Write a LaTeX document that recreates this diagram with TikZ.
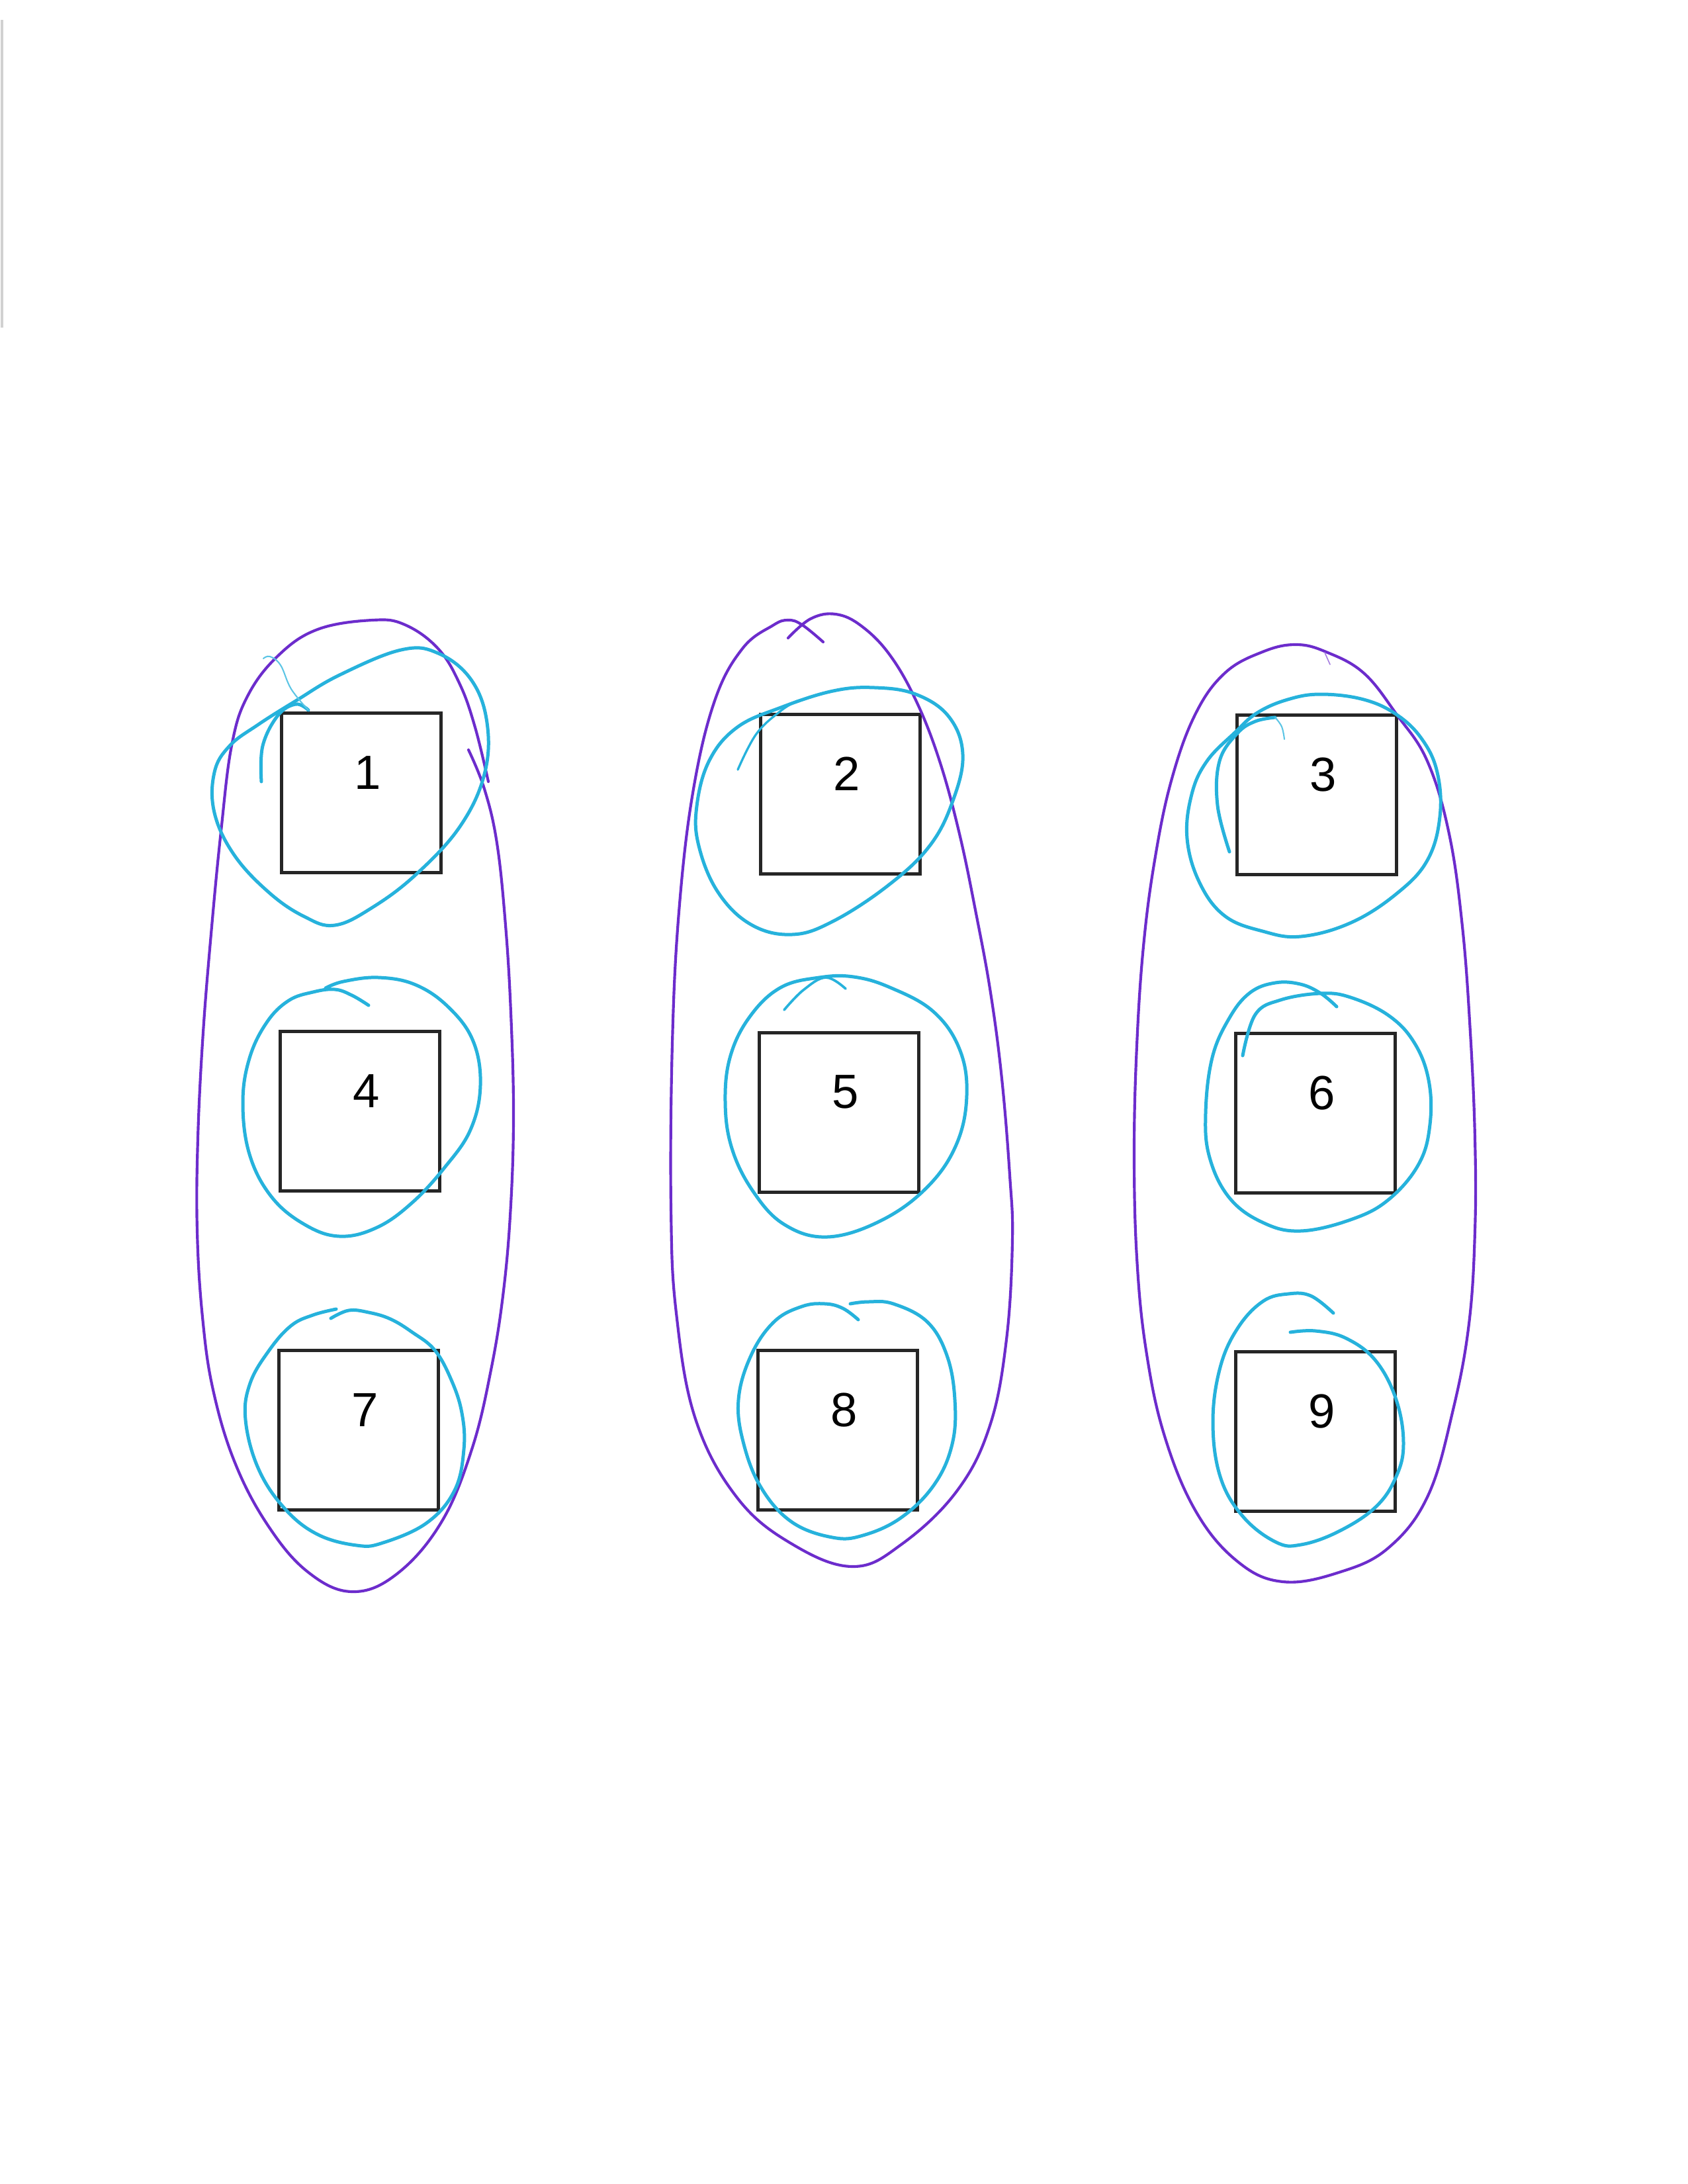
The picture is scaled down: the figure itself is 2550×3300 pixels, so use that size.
\documentclass[tikz,border=0pt]{standalone}
\usepackage{fontspec}
\setmainfont{Liberation Sans}
\definecolor{purp}{RGB}{108,44,204}
\definecolor{cyanpen}{RGB}{38,178,220}
\begin{document}
\begin{tikzpicture}[x=0.24pt,y=-0.24pt,
  cell/.style={draw=black!85,line width=1.1pt,minimum width=57.8pt,minimum height=57.8pt,inner sep=0pt,outer sep=0pt},
  num/.style={font=\fontsize{17.4}{20}\selectfont,inner sep=0pt},
  grp/.style={draw=purp,line width=1pt,line cap=round,line join=round},
  sub/.style={draw=cyanpen,line width=1.2pt,line cap=round,line join=round},
  thinstroke/.style={draw=cyanpen!75,line width=0.5pt,line cap=round}]
\path[use as bounding box] (0,0) rectangle (2550,3300);
\fill[white] (0,0) rectangle (2550,3300);
% scanner edge
\draw[black!18,line width=1.2pt] (3,30) -- (3,495);

% boxes
\node[cell] (b1) at (546,1198) {};
\node[cell] (b2) at (1270,1200) {};
\node[cell] (b3) at (1990,1201) {};
\node[cell] (b4) at (544,1679) {};
\node[cell] (b5) at (1268,1681) {};
\node[cell] (b6) at (1988,1682) {};
\node[cell] (b7) at (542,2161) {};
\node[cell] (b8) at (1266,2161) {};
\node[cell] (b9) at (1988,2163) {};
\foreach \i in {1,...,9}{
  \node[num] (t\i) at ([xshift=2.3pt,yshift=7.4pt]b\i.center) {\i};
}

% purple group loops
\draw[grp] plot[smooth,tension=0.65] coordinates {(708,1133) (732,1192) (751,1274) (764,1398) (772,1530) (776,1680) (772,1820) (761,1950) (742,2070) (713,2190) (667,2300) (600,2378) (532,2405) (465,2375) (405,2305) (355,2210) (322,2100) (306,1990) (298,1860) (299,1720) (307,1560) (320,1400) (334,1256) (350,1127) (374,1052) (420,991) (480,951) (563,937) (612,944) (662,980) (695,1034) (718,1099) (738,1181)};

\draw[grp] plot[smooth,tension=0.65] coordinates {(1191,964) (1225,935) (1263,928) (1302,946) (1345,990) (1385,1060) (1420,1150) (1450,1260) (1475,1380) (1497,1500) (1514,1630) (1526,1776) (1530,1875) (1521,2024) (1496,2154) (1446,2253) (1363,2333) (1289,2367) (1197,2333) (1114,2263) (1051,2144) (1022,1984) (1014,1825) (1016,1577) (1026,1378) (1047,1198) (1080,1059) (1122,980) (1168,945) (1191,937) (1212,944) (1244,970)};

\draw[grp] plot[smooth cycle,tension=0.65] coordinates {(1958,974) (2004,985) (2061,1017) (2111,1080) (2157,1150) (2190,1260) (2210,1400) (2222,1560) (2229,1720) (2229,1860) (2220,2000) (2196,2130) (2158,2260) (2098,2339) (2023,2376) (1939,2390) (1871,2360) (1808,2285) (1760,2170) (1732,2040) (1718,1900) (1714,1740) (1718,1580) (1728,1430) (1745,1300) (1770,1180) (1806,1080) (1851,1017) (1908,985)};
\draw[grp,line width=0.4pt,draw=purp!60] (2002,986) -- (2010,1004);

% cyan loops
% 1
\draw[sub] plot[smooth cycle,tension=0.65] coordinates {(606,982) (662,987) (712,1027) (736,1092) (732,1170) (695,1249) (629,1321) (563,1371) (506,1398) (460,1385) (407,1349) (354,1292) (324,1228) (324,1167) (347,1127) (390,1095) (447,1059) (513,1020)};
\draw[sub] plot[smooth,tension=0.65] coordinates {(395,1181) (397,1127) (420,1081) (447,1064) (466,1073)};
\draw[thinstroke] plot[smooth,tension=0.65] coordinates {(398,995) (408,992) (424,1005) (440,1041) (466,1073)};
% 2
\draw[sub] plot[smooth cycle,tension=0.65] coordinates {(1455,1140) (1440,1210) (1405,1278) (1342,1338) (1259,1392) (1197,1412) (1135,1397) (1085,1348) (1056,1278) (1053,1218) (1072,1149) (1114,1099) (1180,1069) (1259,1044) (1322,1039) (1384,1049) (1434,1083)};
\draw[sub,line width=0.8pt] plot[smooth,tension=0.65] coordinates {(1115,1163) (1143,1109) (1180,1074) (1205,1059)};
% 3
\draw[sub] plot[smooth cycle,tension=0.65] coordinates {(1996,1049) (2061,1057) (2111,1080) (2149,1117) (2172,1167) (2176,1234) (2157,1300) (2111,1350) (2042,1394) (1966,1415) (1908,1407) (1851,1384) (1813,1334) (1794,1267) (1801,1200) (1824,1150) (1866,1107) (1900,1077) (1946,1057)};
\draw[sub] plot[smooth,tension=0.65] coordinates {(1858,1287) (1840,1217) (1843,1150) (1870,1108) (1897,1090) (1927,1084)};
\draw[thinstroke] plot[smooth,tension=0.65] coordinates {(1927,1084) (1937,1098) (1941,1117)};
% 4
\draw[sub] plot[smooth,tension=0.65] coordinates {(557,1519) (532,1504) (506,1495) (473,1499) (436,1512) (403,1545) (377,1599) (367,1666) (377,1744) (410,1808) (460,1850) (513,1868) (569,1855) (622,1818) (672,1764) (711,1707) (726,1640) (715,1573) (678,1522) (628,1488) (572,1477) (519,1483) (492,1493)};
% 5
\draw[sub] plot[smooth cycle,tension=0.65] coordinates {(1180,1492) (1238,1477) (1290,1476) (1345,1492) (1410,1528) (1450,1585) (1461,1655) (1445,1730) (1400,1795) (1330,1845) (1250,1869) (1185,1850) (1138,1800) (1106,1735) (1096,1665) (1104,1595) (1134,1535)};
\draw[sub,line width=0.9pt] plot[smooth,tension=0.65] coordinates {(1185,1526) (1214,1496) (1248,1477) (1278,1494)};
% 6
\draw[sub] plot[smooth,tension=0.65] coordinates {(1878,1595) (1897,1533) (1935,1511) (1996,1501) (2041,1507) (2098,1534) (2137,1575) (2159,1632) (2161,1699) (2144,1759) (2098,1813) (2041,1843) (1965,1860) (1908,1847) (1858,1810) (1828,1749) (1822,1682) (1832,1598) (1858,1538) (1889,1500) (1927,1485) (1965,1487) (1996,1501) (2020,1521)};
% 7
\draw[sub] plot[smooth,tension=0.65] coordinates {(500,1992) (527,1980) (557,1983) (590,1993) (623,2013) (657,2040) (682,2085) (698,2135) (701,2190) (687,2252) (645,2301) (579,2331) (539,2335) (479,2318) (429,2278) (390,2218) (371,2145) (378,2090) (407,2040) (440,2003) (473,1987) (508,1978)};
% 8
\draw[sub] plot[smooth,tension=0.65] coordinates {(1297,1994) (1274,1977) (1247,1970) (1212,1974) (1170,1997) (1135,2048) (1116,2115) (1124,2182) (1151,2249) (1197,2300) (1258,2323) (1304,2320) (1362,2293) (1412,2243) (1439,2182) (1443,2115) (1431,2048) (1401,1997) (1350,1970) (1312,1967) (1285,1970)};
% 9
\draw[sub] plot[smooth,tension=0.65] coordinates {(2015,1984) (1981,1958) (1947,1955) (1909,1966) (1871,2006) (1844,2066) (1833,2148) (1844,2231) (1878,2291) (1928,2330) (1966,2334) (2023,2314) (2079,2277) (2110,2231) (2121,2181) (2110,2115) (2079,2056) (2034,2022) (1988,2011) (1950,2013)};
\end{tikzpicture}
\end{document}
